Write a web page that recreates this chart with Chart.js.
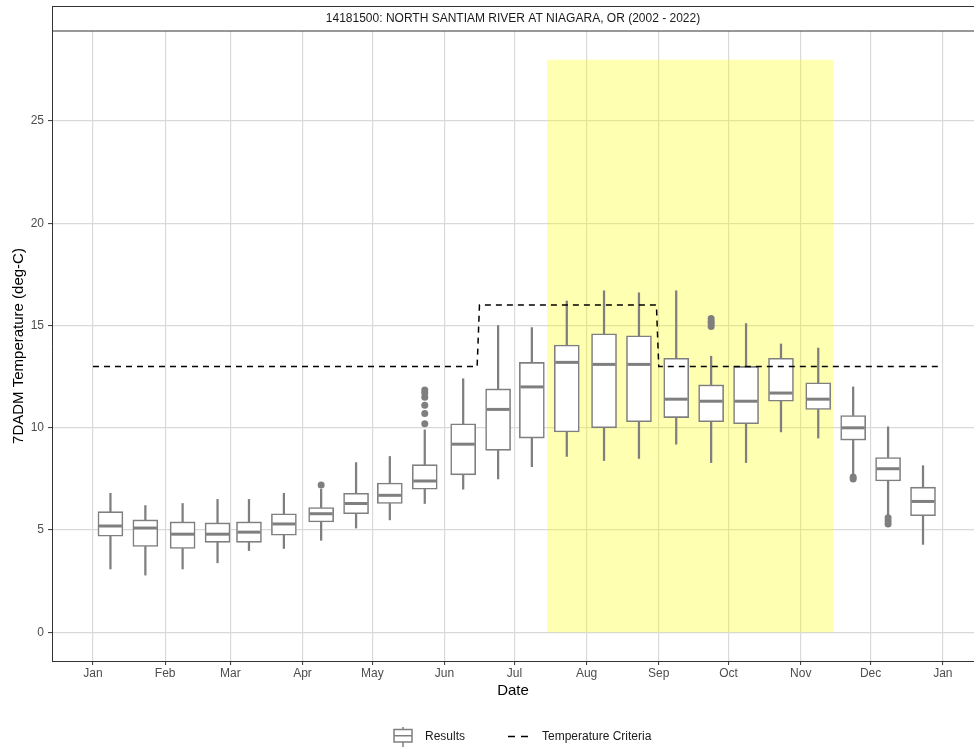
<!DOCTYPE html>
<html>
<head>
<meta charset="utf-8">
<title>14181500: North Santiam River at Niagara, OR</title>
<script src="https://cdn.jsdelivr.net/npm/chart.js@4.4.1/dist/chart.umd.min.js"></script>
<style>
  html, body { margin: 0; padding: 0; background: #fff; }
  #wrap { width: 974px; height: 748px; }
</style>
</head>
<body>
<div id="wrap"><canvas id="tempChart" width="974" height="748"></canvas></div>
<script>
// half-month periods, x position as day of year (Jan 1 = 0)
const periods = [
    "Jan 1-15", "Jan 16-31", "Feb 1-14", "Feb 15-28", "Mar 1-15", "Mar 16-31",
    "Apr 1-15", "Apr 16-30", "May 1-15", "May 16-31", "Jun 1-15", "Jun 16-30",
    "Jul 1-15", "Jul 16-31", "Aug 1-15", "Aug 16-31", "Sep 1-15", "Sep 16-30",
    "Oct 1-15", "Oct 16-31", "Nov 1-15", "Nov 16-30", "Dec 1-15", "Dec 16-31"
];
const periodDay = [7.5, 22.5, 38.5, 53.5, 67, 82, 98, 113, 127.5, 142.5, 159, 174,
    188.5, 203.5, 219.5, 234.5, 250.5, 265.5, 280.5, 295.5, 311.5, 326.5, 341.5, 356.5];

// box plot stats (deg-C)
const whiskerLow = [3.1, 2.8, 3.1, 3.4, 4.0, 4.1, 4.5, 5.1, 5.5, 6.3, 7.0, 7.5,
    8.1, 8.6, 8.4, 8.5, 9.2, 8.3, 8.3, 9.8, 9.5, 7.75, 5.75, 4.3];
const boxQ1 = [4.7, 4.2, 4.1, 4.4, 4.4, 4.75, 5.4, 5.8, 6.3, 7.0, 7.7, 8.9,
    9.5, 9.8, 10.0, 10.3, 10.5, 10.3, 10.2, 11.3, 10.9, 9.4, 7.4, 5.7];
const boxMedian = [5.2, 5.1, 4.8, 4.8, 4.9, 5.3, 5.8, 6.3, 6.7, 7.4, 9.2, 10.9,
    12.0, 13.2, 13.1, 13.1, 11.4, 11.3, 11.3, 11.7, 11.4, 10.0, 8.0, 6.4];
const boxQ3 = [5.9, 5.5, 5.4, 5.35, 5.4, 5.8, 6.1, 6.8, 7.3, 8.2, 10.2, 11.9,
    13.2, 14.05, 14.6, 14.5, 13.4, 12.1, 13.0, 13.4, 12.2, 10.6, 8.55, 7.1];
const whiskerHigh = [6.8, 6.2, 6.3, 6.5, 6.5, 6.8, 7.0, 8.3, 8.6, 9.9, 12.4, 15.0,
    14.9, 16.2, 16.7, 16.6, 16.7, 13.5, 15.1, 14.1, 13.9, 12.0, 10.05, 8.15];
const outliers = [[], [], [], [], [], [], [7.2], [], [], [10.2, 10.7, 11.1, 11.5, 11.7, 11.85], [], [],
    [], [], [], [], [], [14.95, 15.1, 15.2, 15.35], [], [], [], [7.5, 7.6], [5.3, 5.45, 5.6], []];

// temperature criteria (step line)
const criteriaDay = [0, 165, 166, 242, 243, 364];
const criteriaTemp = [13, 13, 16, 16, 13, 13];

// highlighted window Jul 15 - Nov 15
const windowDay = [195, 318];
const windowTemp = [28, 28];

const monthDays = [0, 31, 59, 90, 120, 151, 181, 212, 243, 273, 304, 334, 365];
const monthLabels = ["Jan", "Feb", "Mar", "Apr", "May", "Jun", "Jul", "Aug", "Sep", "Oct", "Nov", "Dec", "Jan"];
const yTicks = [0, 5, 10, 15, 20, 25];

const stationTitle = "14181500: NORTH SANTIAM RIVER AT NIAGARA, OR (2002 - 2022)";

const fontFamily = "'Liberation Sans', Arial, sans-serif";
const gray = "#7f7f7f";
const gridColor = "#d9d9d9";
const axisColor = "#333333";

Chart.defaults.font.family = fontFamily;

const outlierPoints = [];
outliers.forEach((list, i) => {
    list.forEach(v => outlierPoints.push({ x: periodDay[i], y: v }));
});

const datasets = [
    {
        type: "line",
        label: "Temperature Criteria",
        data: criteriaDay.map((d, i) => ({ x: d, y: criteriaTemp[i] })),
        borderColor: "#000",
        borderWidth: 1.5,
        borderDash: [6, 5],
        pointRadius: 0,
        fill: false,
        tension: 0
    },
    {
        type: "scatter",
        label: "Outliers",
        data: outlierPoints,
        backgroundColor: gray,
        borderWidth: 0,
        pointRadius: 3.5
    },
    {
        type: "scatter",
        label: "Median",
        data: periodDay.map((d, i) => ({ x: d, y: boxMedian[i] })),
        pointStyle: "line",
        pointRadius: 11.5,
        borderColor: gray,
        borderWidth: 3
    },
    {
        type: "bar",
        label: "Results",
        data: periodDay.map((d, i) => ({ x: d, y: [boxQ1[i], boxQ3[i]] })),
        backgroundColor: "#fff",
        borderColor: gray,
        borderWidth: 1.6,
        borderSkipped: false,
        barThickness: 25,
        grouped: false
    },
    {
        type: "bar",
        label: "Lower whisker",
        data: periodDay.map((d, i) => ({ x: d, y: [whiskerLow[i], boxQ1[i]] })),
        backgroundColor: gray,
        borderWidth: 0,
        barThickness: 1.6,
        grouped: false
    },
    {
        type: "bar",
        label: "Upper whisker",
        data: periodDay.map((d, i) => ({ x: d, y: [boxQ3[i], whiskerHigh[i]] })),
        backgroundColor: gray,
        borderWidth: 0,
        barThickness: 1.6,
        grouped: false
    },
    {
        type: "line",
        label: "Window",
        data: windowDay.map((d, i) => ({ x: d, y: windowTemp[i] })),
        borderColor: "rgba(0,0,0,0)",
        borderWidth: 0,
        backgroundColor: "rgba(255,255,0,0.3)",
        pointRadius: 0,
        fill: "origin"
    }
];

// facet strip on top and the legend at the bottom
const stripAndLegend = {
    id: "stripAndLegend",
    afterDraw(chart) {
        const { ctx, chartArea } = chart;
        ctx.save();
        ctx.fillStyle = "#fff";
        ctx.fillRect(chartArea.left, 6, chartArea.right - chartArea.left, 25);
        ctx.strokeStyle = axisColor;
        ctx.lineWidth = 1;
        ctx.strokeRect(chartArea.left + 0.5, 6.5, chartArea.right - chartArea.left + 5, 24.5);
        ctx.fillStyle = "#1a1a1a";
        ctx.font = "12px " + fontFamily;
        ctx.textAlign = "center";
        ctx.textBaseline = "middle";
        ctx.fillText(stationTitle, (chartArea.left + chartArea.right) / 2, 19);

        // legend: box key
        ctx.strokeStyle = gray;
        ctx.lineWidth = 1.5;
        ctx.beginPath();
        ctx.moveTo(403, 727); ctx.lineTo(403, 729.5);
        ctx.moveTo(403, 742); ctx.lineTo(403, 747);
        ctx.stroke();
        ctx.strokeRect(394, 729.5, 18, 12.5);
        ctx.beginPath();
        ctx.moveTo(394, 735.75); ctx.lineTo(412, 735.75);
        ctx.stroke();

        // legend: dashed key
        ctx.strokeStyle = "#000";
        ctx.beginPath();
        ctx.moveTo(508, 736.5); ctx.lineTo(515, 736.5);
        ctx.moveTo(521, 736.5); ctx.lineTo(528, 736.5);
        ctx.stroke();

        ctx.fillStyle = "#1a1a1a";
        ctx.textAlign = "left";
        ctx.fillText("Results", 425, 737);
        ctx.fillText("Temperature Criteria", 542, 737);
        ctx.restore();
    }
};

new Chart(document.getElementById("tempChart"), {
    type: "bar",
    data: { datasets: datasets },
    plugins: [stripAndLegend],
    options: {
        responsive: false,
        animation: false,
        events: [],
        layout: { autoPadding: false, padding: { top: 31, left: 0, right: 0, bottom: 0 } },
        plugins: {
            legend: { display: false },
            title: { display: false },
            tooltip: { enabled: false }
        },
        scales: {
            x: {
                type: "linear",
                min: -17.6,
                max: 378.4,
                offset: false,
                afterBuildTicks: s => { s.ticks = monthDays.map(v => ({ value: v })); },
                afterFit: s => { s.height = 87; },
                grid: { color: gridColor, lineWidth: 1.2, offset: false, tickLength: 4, tickColor: axisColor, tickWidth: 1 },
                border: { display: true, color: axisColor, width: 1 },
                ticks: {
                    callback: v => monthLabels[monthDays.indexOf(v)],
                    color: "#4d4d4d",
                    font: { size: 12 },
                    padding: 1,
                    autoSkip: false,
                    maxRotation: 0
                },
                title: { display: true, text: "Date", color: "#000", font: { size: 15 }, padding: { top: 4, bottom: 48 } }
            },
            y: {
                type: "linear",
                min: -1.4,
                max: 29.4,
                afterBuildTicks: s => { s.ticks = yTicks.map(v => ({ value: v })); },
                afterFit: s => { s.width = 52; },
                grid: { color: gridColor, lineWidth: 1.2, tickLength: 4, tickColor: axisColor, tickWidth: 1 },
                border: { display: true, color: axisColor, width: 1 },
                ticks: { color: "#4d4d4d", font: { size: 12 }, padding: 4 },
                title: { display: true, text: "7DADM Temperature (deg-C)", color: "#000", font: { size: 15 }, padding: { top: 10, bottom: 0 } }
            }
        }
    }
});
</script>
</body>
</html>
